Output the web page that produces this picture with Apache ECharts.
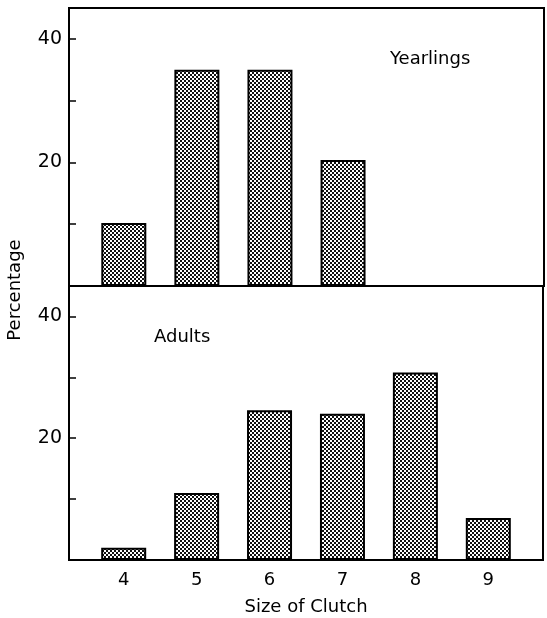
<!DOCTYPE html>
<html>
<head>
<meta charset="utf-8">
<script src="https://cdn.jsdelivr.net/npm/echarts@6/dist/echarts.min.js"></script>
<style>
  html, body { margin: 0; padding: 0; background: #fff; }
  #chart { width: 547px; height: 618px; }
</style>
</head>
<body>
<div id="chart"></div>
<script>
// clutch sizes
const clutchSizes = [4, 5, 6, 7, 8, 9]
const yearlingSizes = [4, 5, 6, 7]
const yearlingPct = [10.2, 35, 35, 20.4]
const adultPct = [2, 11, 24.6, 24, 30.8, 6.9]
const yTicks = [20, 40]

// stippled fill like the printed figure
const makeDots = () => {
  const c = document.createElement('canvas')
  c.width = 4
  c.height = 4
  const ctx = c.getContext('2d')
  ctx.fillStyle = '#ffffff'
  ctx.fillRect(0, 0, 4, 4)
  ctx.fillStyle = '#111111'
  ctx.fillRect(0, 0, 2, 2)
  ctx.fillRect(2, 2, 2, 2)
  return c
}
const dots = { image: makeDots(), repeat: 'repeat' }

const font = 'DejaVu Sans'

const yAxisFor = (gridIndex) => ({
  type: 'value',
  gridIndex,
  min: 0,
  max: 45,
  interval: 10,
  axisLine: { show: true, lineStyle: { color: '#000', width: 2 } },
  axisTick: { show: true, inside: true, length: 7, lineStyle: { color: '#000', width: 1.5 } },
  axisLabel: {
    color: '#000',
    fontFamily: font,
    fontSize: 19,
    margin: 7,
    formatter: v => (yTicks.includes(v) ? String(v) : '')
  },
  splitLine: { show: false }
})

const xAxisFor = (gridIndex, withLabels) => ({
  type: 'value',
  gridIndex,
  min: 3.25,
  max: 9.75,
  axisLine: { show: true, lineStyle: { color: '#000', width: 2 } },
  axisTick: { show: false },
  splitLine: { show: false },
  axisLabel: withLabels ? {
    show: true,
    customValues: clutchSizes,
    color: '#000',
    fontFamily: font,
    fontSize: 18,
    margin: 11
  } : { show: false },
  name: withLabels ? 'Size of Clutch' : '',
  nameLocation: 'middle',
  nameGap: 38,
  nameTextStyle: { color: '#000', fontFamily: font, fontSize: 18 }
})

const barStyle = {
  color: dots,
  borderColor: '#000',
  borderWidth: 2
}

const chart = echarts.init(document.getElementById('chart'), null, { renderer: 'canvas' })

const option = {
  backgroundColor: '#fff',
  animation: false,
  grid: [
    { left: 69, top: 8, right: 3, height: 278, show: true, borderColor: '#000', borderWidth: 2 },
    { left: 69, top: 286, right: 4, height: 274, show: true, borderColor: '#000', borderWidth: 2 }
  ],
  xAxis: [xAxisFor(0, false), xAxisFor(1, true)],
  yAxis: [yAxisFor(0), yAxisFor(1)],
  graphic: [
    {
      type: 'text',
      left: 390,
      top: 50,
      style: { text: 'Yearlings', fontFamily: font, fontSize: 18, fill: '#000' }
    },
    {
      type: 'text',
      left: 154,
      top: 328,
      style: { text: 'Adults', fontFamily: font, fontSize: 18, fill: '#000' }
    },
    {
      type: 'text',
      x: 15,
      y: 290,
      rotation: Math.PI / 2,
      style: {
        text: 'Percentage',
        fontFamily: font,
        fontSize: 18,
        fill: '#000',
        align: 'center',
        verticalAlign: 'middle'
      }
    }
  ],
  series: [
    {
      name: 'Yearlings',
      type: 'bar',
      xAxisIndex: 0,
      yAxisIndex: 0,
      barWidth: 45,
      itemStyle: barStyle,
      data: yearlingSizes.map((s, i) => [s, yearlingPct[i]])
    },
    {
      name: 'Adults',
      type: 'bar',
      xAxisIndex: 1,
      yAxisIndex: 1,
      barWidth: 45,
      itemStyle: barStyle,
      data: clutchSizes.map((s, i) => [s, adultPct[i]])
    }
  ]
}

chart.setOption(option)
</script>
</body>
</html>
